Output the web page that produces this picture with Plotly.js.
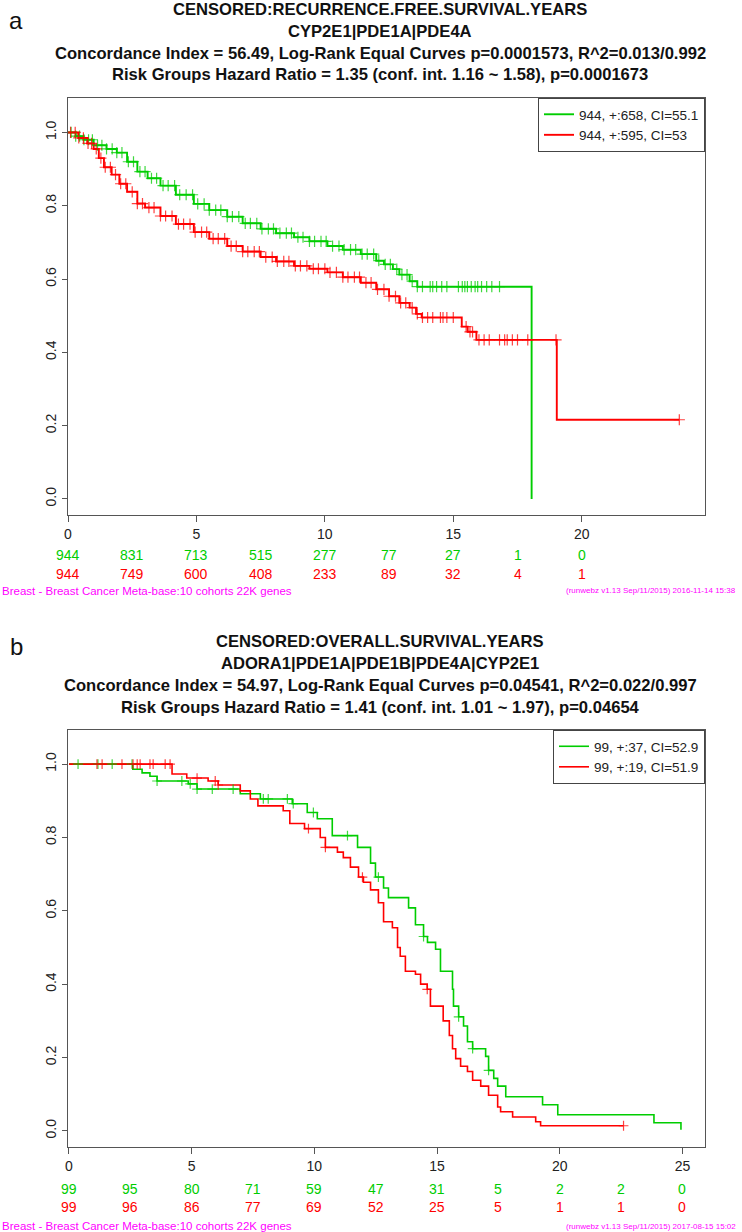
<!DOCTYPE html>
<html>
<head>
<meta charset="utf-8">
<script src="https://cdn.plot.ly/plotly-3.0.1.min.js"></script>
<style>html,body{margin:0;padding:0;background:#fff;}#chart{width:742px;height:1232px;}</style>
</head>
<body>
<div id="chart"></div>
<script>
// ---------- Panel a data (recurrence free survival) ----------
const greenTimesA = [0,0.3,0.6,1.0,1.5,1.9,2.3,2.7,3.1,3.6,4.2,4.9,5.5,6.2,6.8,7.5,8.1,8.8,9.4,10.1,10.7,11.4,12.0,12.3,12.65,12.9,13.3,13.6,18.05];
const greenSurvA  = [1.0,0.99,0.98,0.965,0.955,0.945,0.92,0.893,0.875,0.855,0.83,0.805,0.788,0.77,0.752,0.737,0.725,0.714,0.703,0.69,0.68,0.668,0.65,0.64,0.627,0.612,0.594,0.579,0.0];
const redTimesA = [0,0.4,0.75,1.0,1.2,1.4,1.7,2.0,2.3,2.7,3.0,3.6,4.2,4.9,5.5,6.2,6.8,7.5,8.1,8.8,9.4,10.1,10.7,11.4,12.0,12.5,12.9,13.3,13.55,13.77,15.33,15.56,15.9,19.03,23.8];
const redSurvA  = [1.0,0.985,0.97,0.955,0.93,0.905,0.885,0.86,0.838,0.806,0.795,0.772,0.75,0.728,0.71,0.69,0.675,0.66,0.648,0.636,0.628,0.618,0.605,0.59,0.572,0.553,0.535,0.522,0.505,0.495,0.47,0.456,0.434,0.216,0.216];
const greenCensorA = [0.12,0.3,0.45,0.62,0.8,0.95,1.15,1.32,1.5,1.72,1.9,2.1,2.35,2.55,2.8,3.0,3.25,3.45,3.7,3.9,4.15,4.35,4.6,4.85,5.05,5.3,5.5,5.75,5.95,6.2,6.4,6.65,6.9,7.1,7.35,7.55,7.8,8.0,8.25,8.5,8.7,8.95,9.15,9.4,9.6,9.85,10.05,10.3,10.55,10.75,11.0,11.2,11.45,11.65,11.9,12.1,12.35,12.55,12.8,13.0,13.2,13.4,13.6,13.8,14.1,14.2,14.35,14.55,14.75,15.2,15.35,15.45,15.55,15.7,15.85,15.95,16.1,16.3,16.5,16.8];
const redCensorA = [0.1,0.28,0.42,0.6,0.78,0.92,1.1,1.28,1.45,1.65,1.85,2.05,2.25,2.5,2.7,2.9,3.15,3.35,3.6,3.8,4.05,4.3,4.5,4.75,4.95,5.2,5.4,5.65,5.85,6.1,6.35,6.55,6.8,7.0,7.25,7.45,7.7,7.95,8.15,8.4,8.6,8.85,9.05,9.3,9.55,9.75,10.0,10.2,10.45,10.7,10.9,11.15,11.35,11.6,11.8,12.05,12.3,12.5,12.75,12.95,13.15,13.4,13.6,13.8,14.0,14.2,14.5,14.6,14.75,15.0,15.5,15.65,15.75,16.0,16.2,16.4,16.8,17.0,17.1,17.3,17.5,17.9,19.0,23.8];
const riskTimesA = [0,2.5,5,7.5,10,12.5,15,17.5,20];
const riskGreenA = [944,831,713,515,277,77,27,1,0];
const riskRedA   = [944,749,600,408,233,89,32,4,1];
const legendA = ["944, +:658, CI=55.1","944, +:595, CI=53"];
const titleA = ["CENSORED:RECURRENCE.FREE.SURVIVAL.YEARS","CYP2E1|PDE1A|PDE4A",
  "Concordance Index = 56.49, Log-Rank Equal Curves p=0.0001573, R^2=0.013/0.992",
  "Risk Groups Hazard Ratio = 1.35 (conf. int. 1.16 ~ 1.58), p=0.0001673"];
const footerA = ["Breast - Breast Cancer Meta-base:10 cohorts 22K genes","(runwebz v1.13 Sep/11/2015) 2016-11-14 15:38"];

// ---------- Panel b data (overall survival) ----------
const greenTimesB = [0,2.6,2.98,3.3,3.59,4.86,5.22,6.98,7.8,9.1,9.71,10.12,10.73,11.76,12.29,12.49,12.82,13.02,13.84,14.12,14.45,14.61,14.94,15.14,15.63,15.67,15.88,16.08,16.24,16.45,16.98,17.1,17.31,17.47,17.8,19.3,19.92,23.84,24.94];
const greenSurvB  = [1.0,0.986,0.976,0.967,0.954,0.946,0.932,0.919,0.905,0.892,0.868,0.851,0.805,0.773,0.73,0.692,0.662,0.636,0.608,0.562,0.53,0.514,0.495,0.435,0.386,0.34,0.311,0.286,0.243,0.224,0.203,0.165,0.143,0.122,0.093,0.071,0.044,0.022,0.003];
const redTimesB = [0,4.2,4.8,5.67,6.08,6.98,7.39,7.7,8.73,9.0,9.6,10.24,10.45,10.94,11.18,11.47,11.8,12.0,12.29,12.61,12.82,13.18,13.39,13.5,13.71,14.12,14.33,14.6,14.73,15.25,15.5,15.63,15.76,15.96,16.24,16.45,16.78,17.1,17.47,17.59,18.08,19.02,19.22,22.6];
const redSurvB  = [1.0,0.973,0.962,0.954,0.943,0.927,0.905,0.886,0.873,0.838,0.824,0.80,0.773,0.76,0.745,0.719,0.692,0.678,0.657,0.622,0.57,0.554,0.5,0.476,0.435,0.427,0.40,0.386,0.34,0.30,0.26,0.224,0.197,0.176,0.162,0.138,0.122,0.097,0.065,0.052,0.038,0.025,0.014,0.014];
const greenCensorB = [0.37,1.18,1.76,2.57,3.59,4.6,4.94,5.22,5.84,6.69,7.92,8.12,8.9,9.14,9.96,11.35,12.61,14.45,15.88,16.45,17.1];
const redCensorB = [1.14,1.35,2.16,2.61,2.78,2.9,3.3,3.43,3.92,4.12,5.22,5.96,6.08,9.76,10.45,11.96,14.6,22.6];
const riskTimesB = [0,2.5,5,7.5,10,12.5,15,17.5,20,22.5,25];
const riskGreenB = [99,95,80,71,59,47,31,5,2,2,0];
const riskRedB   = [99,96,86,77,69,52,25,5,1,1,0];
const legendB = ["99, +:37, CI=52.9","99, +:19, CI=51.9"];
const titleB = ["CENSORED:OVERALL.SURVIVAL.YEARS","ADORA1|PDE1A|PDE1B|PDE4A|CYP2E1",
  "Concordance Index = 54.97, Log-Rank Equal Curves p=0.04541, R^2=0.022/0.997",
  "Risk Groups Hazard Ratio = 1.41 (conf. int. 1.01 ~ 1.97), p=0.04654"];
const footerB = ["Breast - Breast Cancer Meta-base:10 cohorts 22K genes","(runwebz v1.13 Sep/11/2015) 2017-08-15 15:02"];

// ---------- helpers ----------
const W = 742, H = 1232;
const GREEN = '#00CD00', RED = '#FF0000', MAG = '#FF00FF';
const px = v => v / W;
const py = v => 1 - v / H;
function survAt(times, surv, t){ let v = surv[0]; for (let i = 0; i < times.length; i++){ if (times[i] <= t) v = surv[i]; } return v; }

function stepTrace(t, s, color, name, xa, ya, leg, w){
  return {x:t, y:s, type:'scatter', mode:'lines', line:{shape:'hv', color:color, width:w},
    name:name, xaxis:xa, yaxis:ya, legend:leg, hoverinfo:'skip'};
}
function censorTrace(ct, t, s, color, xa, ya, size){
  return {x:ct, y:ct.map(c => survAt(t, s, c)), type:'scatter', mode:'markers',
    marker:{symbol:'cross-thin', size:size, color:color, opacity:0.75, line:{color:color, width:1.2}},
    showlegend:false, xaxis:xa, yaxis:ya, hoverinfo:'skip'};
}

const data = [
  stepTrace(greenTimesA, greenSurvA, GREEN, legendA[0], 'x', 'y', 'legend', 1.9),
  stepTrace(redTimesA, redSurvA, RED, legendA[1], 'x', 'y', 'legend', 1.9),
  censorTrace(greenCensorA, greenTimesA, greenSurvA, GREEN, 'x', 'y', 8),
  censorTrace(redCensorA, redTimesA, redSurvA, RED, 'x', 'y', 8),
  stepTrace(greenTimesB, greenSurvB, GREEN, legendB[0], 'x2', 'y2', 'legend2', 1.6),
  stepTrace(redTimesB, redSurvB, RED, legendB[1], 'x2', 'y2', 'legend2', 1.6),
  censorTrace(greenCensorB, greenTimesB, greenSurvB, GREEN, 'x2', 'y2', 7),
  censorTrace(redCensorB, redTimesB, redSurvB, RED, 'x2', 'y2', 7)
];

const FONT = 'Liberation Sans, Arial, sans-serif';
const axisCommon = {showline:true, mirror:true, linecolor:'#555', linewidth:1, ticks:'outside',
  tickcolor:'#555', showgrid:false, zeroline:false, tickfont:{family:FONT, size:14, color:'#222'}};

const annotations = [];
function addTitle(lines, ys){
  lines.forEach((txt, i) => annotations.push({text:txt, xref:'paper', yref:'paper', x:px(380), y:py(ys[i]),
    xanchor:'center', yanchor:'middle', showarrow:false, font:{family:FONT, size:16.6, color:'#111', weight:'bold'}}));
}
addTitle(titleA, [10, 31, 53, 75]);
addTitle(titleB, [641, 663, 685, 707]);
annotations.push({text:'a', xref:'paper', yref:'paper', x:px(16), y:py(20), xanchor:'center', yanchor:'middle', showarrow:false, font:{family:FONT, size:24, color:'#111'}});
annotations.push({text:'b', xref:'paper', yref:'paper', x:px(16), y:py(646), xanchor:'center', yanchor:'middle', showarrow:false, font:{family:FONT, size:24, color:'#111'}});

function addRisk(times, vals, color, xref, yPix){
  times.forEach((t, i) => annotations.push({text:String(vals[i]), xref:xref, yref:'paper', x:t, y:py(yPix),
    xanchor:'center', yanchor:'middle', showarrow:false, font:{family:FONT, size:14, color:color}}));
}
addRisk(riskTimesA, riskGreenA, GREEN, 'x', 555);
addRisk(riskTimesA, riskRedA, RED, 'x', 574);
addRisk(riskTimesB, riskGreenB, GREEN, 'x2', 1189);
addRisk(riskTimesB, riskRedB, RED, 'x2', 1207);

function addFooter(f, yPix){
  annotations.push({text:f[0], xref:'paper', yref:'paper', x:0, y:py(yPix), xanchor:'left', yanchor:'middle', showarrow:false, font:{family:FONT, size:11.5, color:MAG}});
  annotations.push({text:f[1], xref:'paper', yref:'paper', x:px(738), y:py(yPix), xanchor:'right', yanchor:'middle', showarrow:false, font:{family:FONT, size:8, color:MAG}});
}
addFooter(footerA, 591);
addFooter(footerB, 1226);

const legendStyle = {bordercolor:'#444', borderwidth:1, bgcolor:'#fff', font:{family:FONT, size:13.5, color:'#222'},
  xanchor:'right', yanchor:'top', tracegroupgap:0, itemwidth:30};

const layout = {
  width:W, height:H, margin:{l:0, r:0, t:0, b:0}, paper_bgcolor:'#fff', plot_bgcolor:'#fff',
  showlegend:true,
  xaxis:Object.assign({}, axisCommon, {domain:[px(68), px(705)], range:[0, 24.8], tick0:0, dtick:5, ticklen:6, anchor:'y'}),
  yaxis:Object.assign({}, axisCommon, {domain:[py(515), py(98)], range:[-0.044, 1.094], tickvals:[0,0.2,0.4,0.6,0.8,1.0], tickformat:'.1f', tickangle:-90, ticklen:5, anchor:'x'}),
  xaxis2:Object.assign({}, axisCommon, {domain:[px(68), px(705)], range:[-0.04, 25.92], tick0:0, dtick:5, ticklen:6, anchor:'y2'}),
  yaxis2:Object.assign({}, axisCommon, {domain:[py(1147), py(730)], range:[-0.044, 1.093], tickvals:[0,0.2,0.4,0.6,0.8,1.0], tickformat:'.1f', tickangle:-90, ticklen:5, anchor:'x2'}),
  legend:Object.assign({}, legendStyle, {x:px(705), y:py(98)}),
  legend2:Object.assign({}, legendStyle, {x:px(705), y:py(730)}),
  annotations:annotations
};

Plotly.newPlot('chart', data, layout, {staticPlot:true, displayModeBar:false});
</script>
</body>
</html>
